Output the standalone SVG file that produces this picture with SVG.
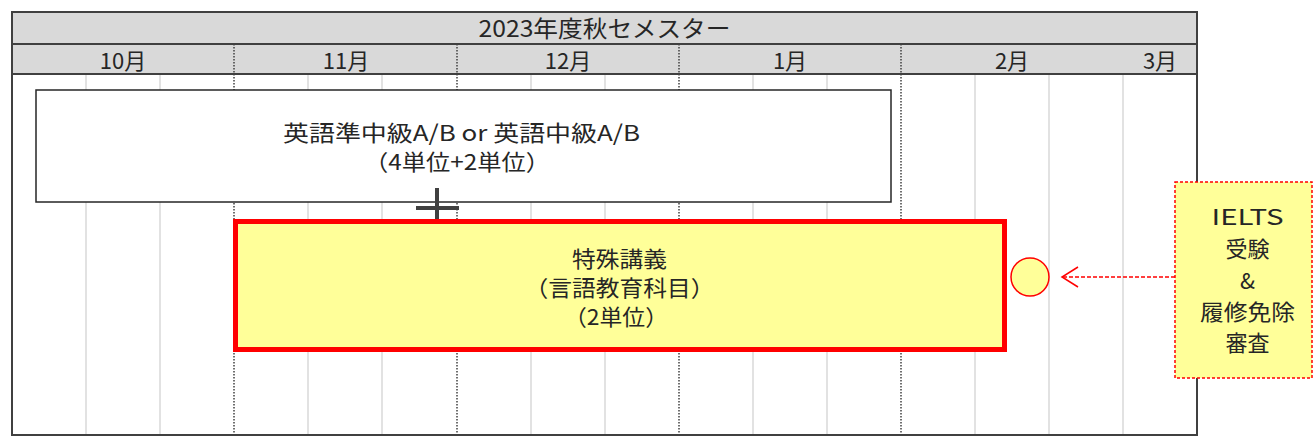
<svg xmlns="http://www.w3.org/2000/svg" width="1314" height="445" viewBox="0 0 1314 445">
<style>
text{font-family:"Noto Sans CJK JP","Noto Sans",sans-serif;fill:#262626;text-anchor:middle}
.hdr{fill:#D9D9D9;stroke:none}
.frame{fill:none;stroke:#404040;stroke-width:2}
.grid{stroke:#D9D9D9;stroke-width:1.5}
.month{stroke:#404040;stroke-width:1.5;stroke-dasharray:1.5 1.5}
.t22{font-size:22px}
.yel{fill:#FFFF99}
</style>
<defs>
<marker id="openArrow" markerWidth="20" markerHeight="24" refX="17" refY="11" orient="auto" markerUnits="userSpaceOnUse">
<polyline points="1,1 17,11 1,21" fill="none" stroke="#FF0000" stroke-width="1.5"/>
</marker>
</defs>
<g id="calendar">
<rect x="12" y="12" width="1185" height="423" fill="#FFFFFF"/>
<rect class="hdr" x="12" y="12" width="1185" height="62"/>
<g id="gridlines">
<line class="grid" x1="86" y1="74" x2="86" y2="435"/>
<line class="grid" x1="160" y1="74" x2="160" y2="435"/>
<line class="grid" x1="308" y1="74" x2="308" y2="435"/>
<line class="grid" x1="382" y1="74" x2="382" y2="435"/>
<line class="grid" x1="531" y1="74" x2="531" y2="435"/>
<line class="grid" x1="605" y1="74" x2="605" y2="435"/>
<line class="grid" x1="753" y1="74" x2="753" y2="435"/>
<line class="grid" x1="827" y1="74" x2="827" y2="435"/>
<line class="grid" x1="975" y1="74" x2="975" y2="435"/>
<line class="grid" x1="1049" y1="74" x2="1049" y2="435"/>
<line class="grid" x1="1123" y1="74" x2="1123" y2="435"/>
<line class="month" x1="234" y1="44" x2="234" y2="435"/>
<line class="month" x1="457" y1="44" x2="457" y2="435"/>
<line class="month" x1="679" y1="44" x2="679" y2="435"/>
<line class="month" x1="901" y1="44" x2="901" y2="435"/>
</g>
<rect class="frame" x="12" y="12" width="1185" height="423"/>
<line class="frame" x1="12" y1="44" x2="1197" y2="44"/>
<line class="frame" x1="12" y1="74" x2="1197" y2="74"/>
<text x="604.5" y="37" font-size="23" textLength="252" lengthAdjust="spacingAndGlyphs">2023年度秋セメスター</text>
<text class="t22" x="123" y="69">10月</text>
<text class="t22" x="346" y="69">11月</text>
<text class="t22" x="568" y="69">12月</text>
<text class="t22" x="790" y="69">1月</text>
<text class="t22" x="1012" y="69">2月</text>
<text class="t22" x="1160" y="69">3月</text>
</g>
<g id="english-course">
<rect x="36" y="90" width="855" height="112" fill="#FFFFFF" stroke="#262626" stroke-width="1.5"/>
<text class="t22" x="461.5" y="141" textLength="357" lengthAdjust="spacingAndGlyphs">英語準中級A/B or 英語中級A/B</text>
<text class="t22" x="457" y="170" textLength="186" lengthAdjust="spacingAndGlyphs">（4単位+2単位）</text>
</g>
<g id="plus-sign">
<line x1="437" y1="188" x2="437" y2="228" stroke="#404040" stroke-width="4"/>
<line x1="416" y1="208" x2="459" y2="208" stroke="#404040" stroke-width="4"/>
</g>
<g id="special-lecture">
<rect class="yel" x="235.5" y="221.5" width="769" height="128" stroke="#FF0000" stroke-width="5"/>
<text class="t22" x="619.5" y="266.5" textLength="95" lengthAdjust="spacingAndGlyphs">特殊講義</text>
<text class="t22" x="619.5" y="295.5" textLength="190" lengthAdjust="spacingAndGlyphs">（言語教育科目）</text>
<text class="t22" x="616" y="324.5" textLength="104" lengthAdjust="spacingAndGlyphs">（2単位）</text>
</g>
<g id="milestone">
<circle class="yel" cx="1030" cy="277" r="19" stroke="#FF0000" stroke-width="1.5"/>
</g>
<g id="ielts">
<rect class="yel" x="1175" y="182" width="137" height="196" stroke="#FF0000" stroke-width="1.5" stroke-dasharray="3 2"/>
<text class="t22" x="1247.5" y="225" textLength="72" lengthAdjust="spacingAndGlyphs">IELTS</text>
<text class="t22" x="1247.5" y="257">受験</text>
<text class="t22" x="1247.5" y="289">&amp;</text>
<text class="t22" x="1247.5" y="320" textLength="95" lengthAdjust="spacingAndGlyphs">履修免除</text>
<text class="t22" x="1247.5" y="351">審査</text>
</g>
<g id="connectors">
<line x1="1175" y1="277" x2="1062" y2="277" stroke="#FF0000" stroke-width="1.5" stroke-dasharray="4 2" marker-end="url(#openArrow)"/>
</g>
</svg>
